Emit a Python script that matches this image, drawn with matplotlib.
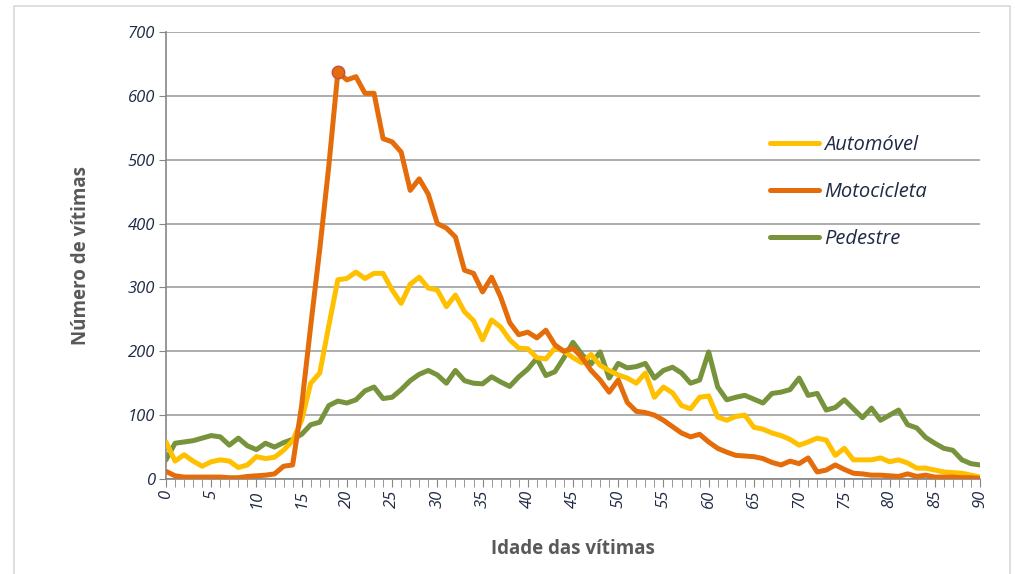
import matplotlib
matplotlib.use('Agg')
import matplotlib.pyplot as plt
from matplotlib.patches import Rectangle
from matplotlib.ticker import MultipleLocator

plt.rcParams['font.family'] = ['Open Sans', 'DejaVu Sans']

idades = list(range(0, 91))

automovel = [58, 28, 38, 28, 20, 27, 30, 28, 18, 22,
             35, 32, 34, 45, 60, 92, 150, 166, 240, 312,
             314, 324, 314, 322, 322, 296, 275, 305, 316, 299,
             296, 270, 288, 262, 248, 218, 249, 238, 218, 205,
             204, 190, 188, 205, 200, 190, 182, 195, 178, 170,
             163, 158, 150, 166, 128, 144, 135, 115, 110, 128,
             130, 97, 92, 98, 100, 81, 78, 72, 68, 62,
             53, 58, 64, 61, 37, 48, 30, 30, 30, 33,
             27, 30, 25, 17, 17, 14, 11, 10, 9, 6, 3]

motocicleta = [12, 5, 3, 3, 3, 3, 3, 2, 2, 4,
               5, 6, 8, 20, 22, 115, 240, 360, 490, 637,
               625, 630, 604, 604, 533, 528, 512, 452, 470, 446,
               400, 393, 379, 327, 322, 293, 316, 285, 245, 226,
               230, 221, 233, 210, 200, 205, 190, 170, 155, 136,
               155, 120, 106, 104, 100, 92, 82, 72, 66, 70,
               58, 48, 42, 37, 36, 35, 32, 26, 22, 28,
               24, 33, 11, 14, 22, 15, 9, 8, 6, 6,
               5, 4, 8, 4, 6, 3, 3, 3, 2, 2, 1]

pedestre = [30, 56, 58, 60, 64, 68, 66, 53, 64, 52,
            46, 56, 50, 57, 62, 70, 85, 89, 115, 122,
            119, 124, 138, 144, 126, 128, 140, 154, 164, 170,
            163, 150, 170, 154, 150, 149, 160, 152, 145, 160,
            172, 189, 162, 168, 190, 214, 195, 180, 199, 158,
            181, 174, 176, 181, 158, 170, 175, 166, 150, 155,
            199, 144, 124, 128, 131, 125, 119, 134, 136, 140,
            158, 131, 134, 108, 112, 124, 110, 96, 111, 92,
            100, 108, 85, 80, 65, 56, 48, 45, 30, 24, 22]

pico_idade = 19

fig = plt.figure(figsize=(10.15, 5.74), dpi=100)
fig.patches.append(Rectangle((14 / 1015, -0.01), 996 / 1015, 1 - 6 / 574 + 0.01,
                             transform=fig.transFigure, fill=False,
                             edgecolor='#d9d9d9', linewidth=1.2))
ax = fig.add_axes([166 / 1015, 1 - 479 / 574, 814 / 1015, 447 / 574])

lw = 3.6
ax.plot(idades, automovel, color='#ffc000', lw=lw, label='Automóvel',
        solid_joinstyle='round', solid_capstyle='round', zorder=3)
ax.plot(idades, motocicleta, color='#e46c0a', lw=lw, label='Motocicleta',
        solid_joinstyle='round', solid_capstyle='round', zorder=4)
ax.plot(idades, pedestre, color='#77933c', lw=lw, label='Pedestre',
        solid_joinstyle='round', solid_capstyle='round', zorder=2)
ax.plot([pico_idade], [motocicleta[pico_idade]], 'o', color='#e46c0a',
        markeredgecolor='#c0504d', markersize=9, zorder=5)

ax.set_xlim(0, 90)
ax.set_ylim(0, 700)
ax.yaxis.set_major_locator(MultipleLocator(100))
ax.xaxis.set_major_locator(MultipleLocator(5))
ax.xaxis.set_minor_locator(MultipleLocator(1))
ax.grid(axis='y', color='#a6a6a6', linewidth=1.3)
ax.set_axisbelow(True)

for s in ['top', 'right']:
    ax.spines[s].set_visible(False)
for s in ['left', 'bottom']:
    ax.spines[s].set_color('#868686')
    ax.spines[s].set_linewidth(1.2)

ax.tick_params(axis='y', length=5, color='#868686', labelsize=12,
               labelcolor='#1f2a44', pad=3)
ax.tick_params(axis='x', which='both', length=6, color='#868686',
               labelsize=12, labelcolor='#1f2a44', pad=2)
for t in ax.get_yticklabels():
    t.set_style('italic')
for t in ax.get_xticklabels():
    t.set_style('italic')
    t.set_rotation(90)

ax.set_xlabel('Idade das vítimas', fontsize=13.5, fontweight='bold',
              color='#595959', labelpad=22)
ax.set_ylabel('Número de vítimas', fontsize=13.5, fontweight='bold',
              color='#595959', labelpad=26)

leg = ax.legend(loc='upper left', bbox_to_anchor=(0.72, 0.81), frameon=False,
                handlelength=2.4, handletextpad=0.3, labelspacing=1.35,
                prop={'size': 14.5, 'style': 'italic'})
for t in leg.get_texts():
    t.set_color('#1f2a44')

fig.savefig('out.png', dpi=100)
